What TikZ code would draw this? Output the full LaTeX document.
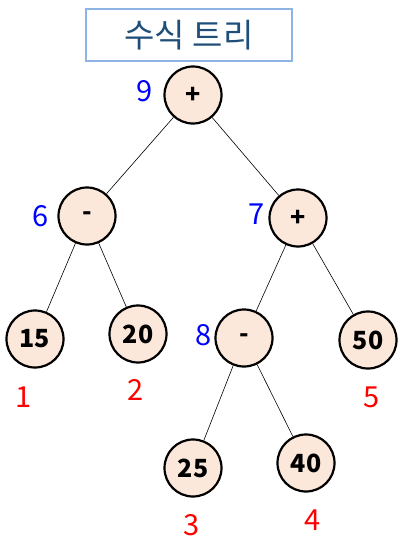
\documentclass[tikz,border=0pt]{standalone}
\usepackage{fontspec}
\setmainfont{Noto Sans CJK KR}
\definecolor{nodefill}{RGB}{252,232,218}
\definecolor{titleblue}{RGB}{31,78,121}
\definecolor{titleline}{RGB}{141,180,226}
\tikzset{
  opnode/.style={circle, draw, line width=2.2pt, fill=nodefill, minimum size=57pt, inner sep=0pt, font=\fontsize{25}{25}\selectfont\bfseries},
  ordlabel/.style={text=blue, font=\fontsize{29}{29}\selectfont},
  leaflabel/.style={text=red, font=\fontsize{29}{29}\selectfont},
  edge/.style={line width=0.6pt}
}
\begin{document}
\begin{tikzpicture}[x=1pt,y=-1pt]
    \useasboundingbox (0,0) rectangle (409,560);

    \node[draw=titleline, line width=1.2pt, minimum width=206pt, minimum height=52pt, text=titleblue, font=\fontsize{33}{33}\selectfont] (title) at (189,35) {수식 트리};

    \node[opnode] (n9) at (193,95) {+};
    \node[opnode] (n6) at (87,216) {-};
    \node[opnode] (n7) at (298,218) {+};
    \node[opnode] (n1) at (35,339) {15};
    \node[opnode] (n2) at (138,334) {20};
    \node[opnode] (n8) at (244,338) {-};
    \node[opnode] (n5) at (368,340) {50};
    \node[opnode] (n3) at (193,468) {25};
    \node[opnode] (n4) at (306,463) {40};

    \draw[edge] (n9) -- (n6);
    \draw[edge] (n9) -- (n7);
    \draw[edge] (n6) -- (n1);
    \draw[edge] (n6) -- (n2);
    \draw[edge] (n7) -- (n8);
    \draw[edge] (n7) -- (n5);
    \draw[edge] (n8) -- (n3);
    \draw[edge] (n8) -- (n4);

    \node[ordlabel] (o9) at (145,91) {9};
    \node[ordlabel] (o6) at (41,216) {6};
    \node[ordlabel] (o7) at (257,214) {7};
    \node[ordlabel] (o8) at (204,335) {8};

    \node[leaflabel] (l1) at (24,397) {1};
    \node[leaflabel] (l2) at (136,390) {2};
    \node[leaflabel] (l3) at (192,525) {3};
    \node[leaflabel] (l4) at (313,520) {4};
    \node[leaflabel] (l5) at (372,397) {5};
\end{tikzpicture}
\end{document}
